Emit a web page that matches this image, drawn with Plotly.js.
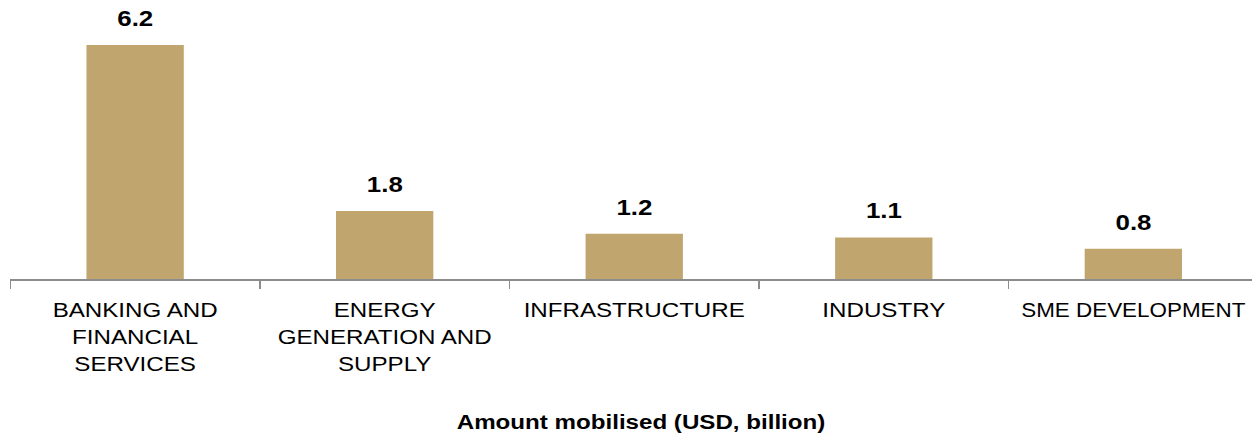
<!DOCTYPE html>
<html>
<head>
<meta charset="utf-8">
<script src="https://cdn.plot.ly/plotly-3.0.1.min.js"></script>
<style>
html,body{margin:0;padding:0;overflow:hidden;background:#fff;}
#wrap{width:1252px;height:434px;overflow:hidden;}
#chart{width:1094px;height:434px;transform:scaleX(1.15);transform-origin:0 0;}
</style>
</head>
<body>
<div id="wrap"><div id="chart"></div></div>
<script>
const categories = ["BANKING AND<br>FINANCIAL<br>SERVICES", "ENERGY<br>GENERATION AND<br>SUPPLY", "INFRASTRUCTURE", "INDUSTRY", "SME DEVELOPMENT"];
const values = [6.2, 1.8, 1.2, 1.1, 0.8];
const valueLabels = ["6.2", "1.8", "1.2", "1.1", "0.8"];
const axisTitle = "Amount mobilised (USD, billion)";

const FONT = 'Liberation Sans, Arial, sans-serif';

const trace = {
  type: 'bar',
  x: categories,
  y: values,
  marker: {color: '#C0A66E'},
  hoverinfo: 'none'
};

const annotations = categories.map((c, i) => ({
  x: c, y: values[i], xref: 'x', yref: 'y',
  text: '<b>' + valueLabels[i] + '</b>',
  showarrow: false, yanchor: 'bottom', yshift: 12,
  font: {family: FONT, size: 22.5, color: '#000'}
}));
annotations.push({
  xref: 'paper', yref: 'paper', x: 0.5056, y: -0.51, xanchor: 'center', yanchor: 'middle',
  text: '<b>' + axisTitle + '</b>', showarrow: false,
  font: {family: FONT, size: 21, color: '#000'}
});

// last label slightly smaller so it fits at the right edge
const tickText = categories.map((c, i) =>
  i === categories.length - 1 ? '<span style="font-size:19.5px">' + c + '</span>' : c);

const layout = {
  width: 1094, height: 434,
  margin: {l: 8.7, r: 0, t: 0, b: 155},
  bargap: 0.61,
  showlegend: false,
  paper_bgcolor: '#fff', plot_bgcolor: '#fff',
  font: {family: FONT, size: 21, color: '#000'},
  xaxis: {
    showline: true, linecolor: '#8C8C8C', linewidth: 1.5,
    ticks: 'outside', tickson: 'boundaries', ticklen: 8, tickcolor: '#8C8C8C', tickwidth: 1.3,
    ticklabelstandoff: 11,
    tickangle: 0,
    tickmode: 'array', tickvals: categories, ticktext: tickText,
    showgrid: false, zeroline: false,
    tickfont: {family: FONT, size: 21, color: '#000'},
    automargin: false
  },
  yaxis: {
    range: [0, 7.393], visible: false, showgrid: false, zeroline: false, fixedrange: true
  },
  annotations: annotations
};

Plotly.newPlot('chart', [trace], layout, {staticPlot: true, displayModeBar: false});
</script>
</body>
</html>
